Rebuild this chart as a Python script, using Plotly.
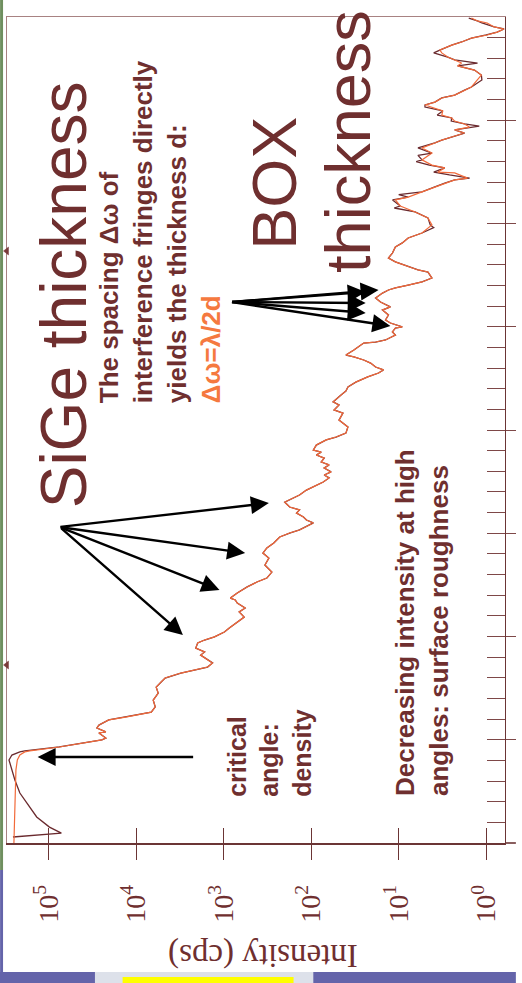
import plotly.graph_objects as go

# ---------------- data ----------------
# incidence angle omega (deg) and log10 of intensity (cps)
sim_omega = [0.000, 0.208, 0.354, 0.402, 0.426, 0.441, 0.446, 0.465, 0.499, 0.508,
             0.533, 0.538, 0.557, 0.571, 0.596, 0.610, 0.634, 0.659, 0.692, 0.726,
             0.755, 0.780, 0.799, 0.823, 0.838, 0.852, 0.872, 0.896, 0.910, 0.925,
             0.944, 0.969, 0.983, 0.998, 1.022, 1.041, 1.070, 1.094, 1.119, 1.138,
             1.162, 1.177, 1.186, 1.211, 1.240, 1.264, 1.283, 1.312, 1.346, 1.380,
             1.404, 1.429, 1.453, 1.482, 1.501, 1.516, 1.550, 1.564, 1.579, 1.598,
             1.613, 1.627, 1.651, 1.671, 1.685, 1.709, 1.734, 1.748, 1.768, 1.782,
             1.797, 1.816, 1.831, 1.845, 1.864, 1.879, 1.893, 1.903, 1.927, 1.952,
             1.966, 1.985, 2.015, 2.048, 2.082, 2.097, 2.121, 2.136, 2.169, 2.189,
             2.208, 2.232, 2.257, 2.276, 2.291, 2.305, 2.324, 2.339, 2.354, 2.363,
             2.387, 2.402, 2.421, 2.426, 2.436, 2.460, 2.475, 2.494, 2.499, 2.518,
             2.533, 2.557, 2.581, 2.596, 2.620, 2.639, 2.663, 2.678, 2.688, 2.702,
             2.717, 2.736, 2.765, 2.775, 2.785, 2.799, 2.814, 2.833, 2.857, 2.886,
             2.906, 2.930, 2.954, 2.993, 3.027, 3.056, 3.085, 3.114, 3.128, 3.153,
             3.177, 3.196, 3.211, 3.220, 3.245, 3.249, 3.269, 3.283, 3.308, 3.341,
             3.366, 3.390, 3.404, 3.419, 3.438, 3.453, 3.467, 3.482, 3.496, 3.511,
             3.525, 3.545, 3.564, 3.574, 3.588, 3.608, 3.622, 3.646, 3.661, 3.695,
             3.719, 3.743, 3.753, 3.763, 3.777, 3.792, 3.806, 3.826, 3.840, 3.864,
             3.879, 3.898, 3.913, 3.927, 3.942, 3.952, 3.971, 3.981, 3.995]
sim_log_intensity = [5.395, 5.384, 5.372, 5.356, 5.327, 5.271, 5.214, 4.876, 4.391, 4.345,
                     4.424, 4.345, 4.447, 4.424, 4.312, 4.120, 3.826, 3.781, 3.804, 3.747,
                     3.770, 3.713, 3.668, 3.488, 3.330, 3.183, 3.126, 3.205, 3.262, 3.217,
                     3.318, 3.296, 3.217, 3.104, 2.991, 2.935, 2.844, 2.765, 2.822, 2.754,
                     2.844, 2.867, 2.923, 2.844, 2.731, 2.619, 2.506, 2.449, 2.528, 2.483,
                     2.551, 2.506, 2.427, 2.359, 2.246, 2.133, 1.975, 2.054, 2.088, 2.167,
                     2.133, 2.246, 2.302, 2.201, 2.133, 2.054, 1.941, 1.862, 1.795, 1.851,
                     1.772, 1.851, 1.795, 1.885, 1.851, 1.941, 1.885, 1.975, 1.941, 1.828,
                     1.716, 1.603, 1.580, 1.682, 1.637, 1.738, 1.682, 1.749, 1.659, 1.603,
                     1.580, 1.490, 1.354, 1.230, 1.174, 1.264, 1.321, 1.400, 1.512, 1.603,
                     1.512, 1.456, 1.400, 1.264, 1.151, 1.038, 1.072, 1.038, 0.959, 1.095,
                     1.151, 1.117, 1.185, 1.095, 1.208, 1.264, 1.185, 1.117, 1.038, 0.892,
                     0.734, 0.621, 0.666, 0.779, 0.847, 0.959, 1.038, 1.117, 1.072, 1.038,
                     0.959, 0.892, 0.734, 0.621, 0.666, 0.813, 0.982, 1.038, 0.892, 0.734,
                     0.587, 0.474, 0.361, 0.214, 0.361, 0.553, 0.474, 0.621, 0.734, 0.621,
                     0.734, 0.587, 0.508, 0.395, 0.248, 0.361, 0.192, 0.248, 0.361, 0.395,
                     0.508, 0.497, 0.621, 0.700, 0.587, 0.508, 0.361, 0.248, 0.169, 0.102,
                     0.056, 0.135, 0.248, 0.327, 0.282, 0.361, 0.440, 0.508, 0.530, 0.395,
                     0.282, 0.169, -0.011, -0.124, -0.203, -0.090, -0.011, 0.102, 0.169]

meas_low_omega = [0.029, 0.048, 0.077, 0.126, 0.194, 0.242, 0.305, 0.354, 0.402, 0.426,
                  0.441, 0.446]
meas_low_log_intensity = [5.406, 4.853, 4.989, 5.135, 5.248, 5.327, 5.384, 5.418, 5.451, 5.418,
                          5.327, 5.271]

meas_high_omega = [2.930, 2.954, 2.980, 2.993, 3.027, 3.056, 3.075, 3.085, 3.114, 3.128,
                   3.140, 3.153, 3.177, 3.196, 3.211, 3.220, 3.235, 3.249, 3.269, 3.283,
                   3.300, 3.308, 3.330, 3.341, 3.366, 3.390, 3.404, 3.419, 3.438, 3.453,
                   3.472, 3.482, 3.496, 3.511, 3.525, 3.545, 3.564, 3.574, 3.588, 3.608,
                   3.622, 3.646, 3.661, 3.695, 3.719, 3.743, 3.753, 3.763, 3.777, 3.792,
                   3.806, 3.826, 3.840, 3.864, 3.879, 3.898, 3.913, 3.927, 3.942, 3.952,
                   3.971, 3.981, 3.995]
meas_high_log_intensity = [0.892, 0.734, 0.600, 0.640, 0.666, 0.813, 1.050, 0.982, 1.070, 0.892,
                           1.000, 0.734, 0.587, 0.474, 0.361, 0.190, 0.420, 0.600, 0.474, 0.650,
                           0.800, 0.734, 0.780, 0.621, 0.780, 0.587, 0.508, 0.395, 0.248, 0.361,
                           0.080, 0.248, 0.400, 0.395, 0.560, 0.497, 0.700, 0.700, 0.587, 0.508,
                           0.361, 0.248, 0.169, 0.050, 0.056, 0.135, 0.248, 0.327, 0.100, 0.361,
                           0.440, 0.600, 0.530, 0.395, 0.282, 0.169, 0.000, -0.124, -0.203, -0.090,
                           0.050, 0.102, 0.200]

intensity_ticks = [1e5, 1e4, 1e3, 1e2, 1e1, 1e0]
intensity_tick_labels = ["10<sup>5</sup>", "10<sup>4</sup>", "10<sup>3</sup>",
                         "10<sup>2</sup>", "10<sup>1</sup>", "10<sup>0</sup>"]
omega_minor_ticks = [round(0.1 * k, 1) for k in range(1, 40)]
omega_major_ticks = [0.5, 1.0, 1.5, 2.0, 2.5, 3.0, 3.5]

# ---------------- build series ----------------
meas_omega = list(meas_low_omega)
meas_logI = list(meas_low_log_intensity)
for w, l in zip(sim_omega, sim_log_intensity):
    if 0.46 < w < 2.92:
        meas_omega.append(w)
        meas_logI.append(l)
meas_omega += meas_high_omega
meas_logI += meas_high_log_intensity

sim_I = [10 ** v for v in sim_log_intensity]
meas_I = [10 ** v for v in meas_logI]

BROWN = "#6F2F2F"
AXIS = "#6B3535"
LIGHT = "#A88282"
ORANGE = "#F26A3A"

fig = go.Figure()
fig.add_trace(go.Scatter(x=meas_I, y=meas_omega, mode="lines",
                         line=dict(color="#6A2A2E", width=1.3), showlegend=False))
fig.add_trace(go.Scatter(x=sim_I, y=sim_omega, mode="lines",
                         line=dict(color=ORANGE, width=1.2), showlegend=False))
# helper traces so that the overlay axes are drawn
fig.add_trace(go.Scatter(x=[], y=[], xaxis="x2", yaxis="y2", showlegend=False))
fig.add_trace(go.Scatter(x=[], y=[], xaxis="x3", yaxis="y3", showlegend=False))

XR = [5.474, -0.214]
YR = [0, 4]

fig.update_layout(
    width=522, height=983,
    margin=dict(l=7, r=11, t=17, b=140),
    paper_bgcolor="white", plot_bgcolor="white",
    showlegend=False,
    xaxis=dict(type="log", range=XR, tickvals=intensity_ticks, ticktext=intensity_tick_labels,
               tickangle=-90, ticks="outside", ticklen=15, tickwidth=1.3, tickcolor=AXIS,
               showline=True, linecolor=AXIS, linewidth=1.6, showgrid=False, zeroline=False,
               ticklabelstandoff=14,
               tickfont=dict(family="Liberation Serif, Times New Roman, serif", size=28, color=BROWN)),
    xaxis2=dict(type="log", range=XR, overlaying="x", anchor="y", side="bottom",
                tickvals=intensity_ticks, ticks="inside", ticklen=15, tickwidth=1.3, tickcolor=AXIS,
                showticklabels=False, showline=False, showgrid=False, zeroline=False),
    xaxis3=dict(type="log", range=XR, overlaying="x", anchor="y", side="top",
                ticks="", showticklabels=False, showline=True, linecolor=LIGHT, linewidth=1.2,
                showgrid=False, zeroline=False),
    yaxis=dict(range=YR, side="right", tickvals=omega_minor_ticks, ticks="inside", ticklen=18,
               tickwidth=1.3, tickcolor="#7E4848", showticklabels=False, showline=True,
               linecolor=AXIS, linewidth=1.4, showgrid=False, zeroline=False),
    yaxis2=dict(range=YR, overlaying="y", anchor="x", side="right", tickvals=omega_major_ticks,
                ticks="outside", ticklen=10, tickwidth=1.3, tickcolor="#7E4848",
                showticklabels=False, showline=False, showgrid=False, zeroline=False),
    yaxis3=dict(range=YR, overlaying="y", anchor="x", side="left", ticks="",
                showticklabels=False, showline=True, linecolor=LIGHT, linewidth=1.2,
                showgrid=False, zeroline=False),
)

# --------------- slide decoration (background strips) ---------------
def px_x(px):
    return (px - 7) / 504.0

def px_y(py):
    return (843 - py) / 826.0

def wedge(py):
    return (f"M {px_x(3.5)} {px_y(py)} L {px_x(8.5)} {px_y(py - 4)} "
            f"L {px_x(8.5)} {px_y(py + 4)} Z")

shapes = [
    dict(type="rect", xref="paper", yref="paper", x0=px_x(0), x1=px_x(3), y0=px_y(870), y1=px_y(0),
         fillcolor="#6F8F5F", line_width=0),
    dict(type="rect", xref="paper", yref="paper", x0=px_x(0), x1=px_x(3), y0=px_y(983), y1=px_y(870),
         fillcolor="#6464AA", line_width=0),
    dict(type="rect", xref="paper", yref="paper", x0=px_x(0), x1=px_x(522), y0=px_y(983), y1=px_y(972),
         fillcolor="#6464AA", line_width=0),
    dict(type="rect", xref="paper", yref="paper", x0=px_x(96), x1=px_x(317), y0=px_y(983), y1=px_y(972),
         fillcolor="#DDE1EA", line_width=0),
    dict(type="rect", xref="paper", yref="paper", x0=px_x(124), x1=px_x(297), y0=px_y(983), y1=px_y(977),
         fillcolor="#FFFF00", line_width=0),
    # bottom axis line running on past the right axis
    dict(type="line", xref="paper", yref="paper", x0=1.0, x1=px_x(522), y0=0, y1=0,
         line=dict(color=AXIS, width=1.6)),
    # small slide markers on the left border
    dict(type="path", xref="paper", yref="paper", path=wedge(251), fillcolor="#7A3A3A",
         line=dict(color="#7A3A3A", width=0.5)),
    dict(type="path", xref="paper", yref="paper", path=wedge(665), fillcolor="#7A3A3A",
         line=dict(color="#7A3A3A", width=0.5)),
]
fig.update_layout(shapes=shapes)

SANS = "Liberation Sans, Arial, Helvetica, sans-serif"
ann = []
ann.append(dict(xref="paper", yref="paper", x=px_x(65), y=px_y(295), text="SiGe thickness",
                textangle=-90, showarrow=False, xanchor="center", yanchor="middle",
                font=dict(family=SANS, size=64, color=BROWN)))
ann.append(dict(xref="paper", yref="paper", x=px_x(277), y=px_y(183), text="BOX",
                textangle=-90, showarrow=False, xanchor="center", yanchor="middle",
                font=dict(family=SANS, size=63, color=BROWN)))
ann.append(dict(xref="paper", yref="paper", x=px_x(352), y=px_y(141), text="thickness",
                textangle=-90, showarrow=False, xanchor="center", yanchor="middle",
                font=dict(family=SANS, size=63, color=BROWN)))
ann.append(dict(xref="paper", yref="paper", x=px_x(161), y=px_y(232),
                text="<b>The spacing \u0394\u03c9 of<br>interference fringes directly<br>"
                     "yields the thickness d:<br><span style='color:#F5793F'>\u0394\u03c9=\u03bb/2d</span></b>",
                textangle=-90, showarrow=False, xanchor="center", yanchor="middle", align="left",
                font=dict(family=SANS, size=26, color=BROWN)))
ann.append(dict(xref="paper", yref="paper", x=px_x(272), y=px_y(753),
                text="<b>critical<br>angle:<br>density</b>",
                textangle=-90, showarrow=False, xanchor="center", yanchor="middle", align="left",
                font=dict(family=SANS, size=25, color=BROWN)))
ann.append(dict(xref="paper", yref="paper", x=px_x(427), y=px_y(623),
                text="<b>Decreasing intensity at high<br>angles: surface roughness</b>",
                textangle=-90, showarrow=False, xanchor="center", yanchor="middle", align="left",
                font=dict(family=SANS, size=26, color=BROWN)))
ann.append(dict(xref="paper", yref="paper", x=px_x(266), y=px_y(956), text="Intensity (cps)",
                textangle=180, showarrow=False, xanchor="center", yanchor="middle",
                font=dict(family="Liberation Serif, Times New Roman, serif", size=33, color=BROWN)))

# arrows: tip in data coords (log10 intensity, omega), tail offset in pixels
arrows = [
    (5.124, 0.4165, 157, 0),
    (3.465, 1.007, -123, -108),
    (3.047, 1.225, -160, -63),
    (2.754, 1.404, -186, -26),
    (2.483, 1.646, -210, 24),
    (1.377, 2.668, -135, 10),
    (1.230, 2.678, -148, 12),
    (1.377, 2.615, -135, -1),
    (1.377, 2.567, -135, -11),
    (1.095, 2.504, -160, -24),
]
for lx, w, axp, ayp in arrows:
    ann.append(dict(xref="x", yref="y", x=lx, y=w, ax=axp, ay=ayp, text="",
                    showarrow=True, arrowhead=2, arrowsize=1.5, arrowwidth=2.4,
                    arrowcolor="black", standoff=0))

fig.update_layout(annotations=ann)

fig.write_html("out.html")
